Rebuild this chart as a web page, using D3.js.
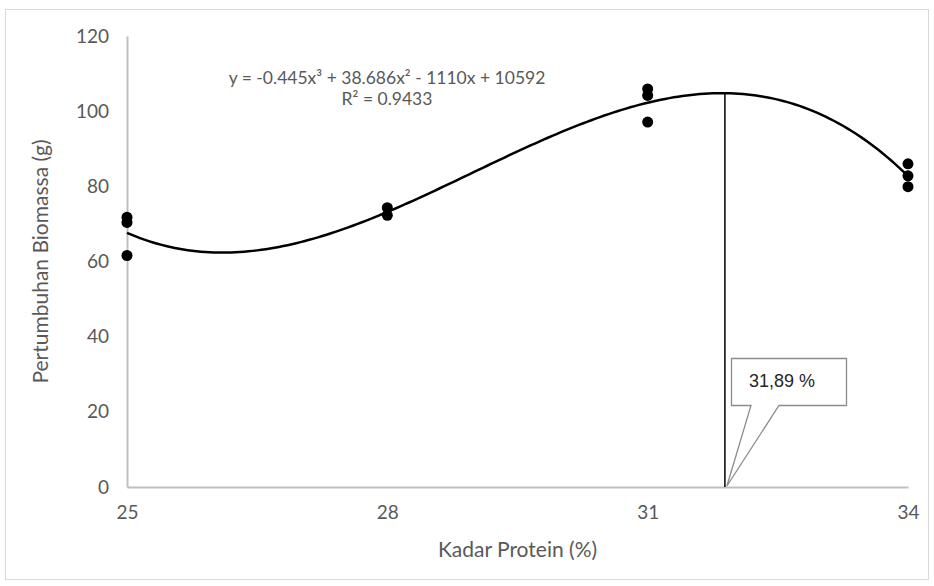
<!DOCTYPE html>
<html>
<head>
<meta charset="utf-8">
<script src="https://cdn.jsdelivr.net/npm/d3@7"></script>
<style>
  body { margin: 0; background: #fff; }
  text { font-family: Lato, "Open Sans", sans-serif; }
</style>
</head>
<body>
<div class="chart"></div>
<script>
var proteinX = [25, 25, 25, 28, 28, 31, 31, 31, 34, 34, 34];
var biomassY = [71.8, 70.4, 61.6, 74.3, 72.3, 105.9, 104.2, 97.1, 86.0, 82.8, 79.9];
// trendline coefficients as printed on the chart (a*x^3 + b*x^2 + c*x + d)
var trendCoef = [-0.445, 38.686, -1110, 10592];
var xTicks = [25, 28, 31, 34];
var yTicks = [0, 20, 40, 60, 80, 100, 120];
var optimumX = 31.89;
var eqLines = ["y = -0.445x\u00b3 + 38.686x\u00b2 - 1110x + 10592", "R\u00b2 = 0.9433"];
var calloutText = "31,89 %";

var width = 934, height = 586;
var margin = { top: 36, right: 26, bottom: 99, left: 127 };

var svg = d3.select(".chart")
  .append("svg")
    .attr("width", width)
    .attr("height", height);

// outer chart frame
svg.append("rect")
    .attr("x", 5.5).attr("y", 9.5)
    .attr("width", 923).attr("height", 570)
    .attr("fill", "none")
    .attr("stroke", "#d9d9d9");

var x = d3.scaleLinear()
    .domain([25, 34])
    .range([margin.left, width - margin.right]);
var y = d3.scaleLinear()
    .domain([0, 120])
    .range([height - margin.bottom, margin.top]);

function poly(v) {
  return trendCoef[0] * v * v * v + trendCoef[1] * v * v + trendCoef[2] * v + trendCoef[3];
}

// axes
var xAxis = svg.append("g")
    .attr("transform", "translate(0," + y(0) + ")")
    .call(d3.axisBottom(x).tickValues(xTicks).tickSize(0).tickPadding(19));
var yAxis = svg.append("g")
    .attr("transform", "translate(" + x(25) + ",0)")
    .call(d3.axisLeft(y).tickValues(yTicks).tickSize(0).tickPadding(18));

[xAxis, yAxis].forEach(function(g) {
  g.select(".domain").attr("stroke", "#bfbfbf").attr("stroke-width", 2);
  g.selectAll("text")
    .attr("fill", "#595959")
    .style("font-size", "19px");
});

// axis titles
svg.append("text")
    .attr("x", (x(25) + x(34)) / 2)
    .attr("y", 557)
    .attr("text-anchor", "middle")
    .attr("fill", "#595959")
    .style("font-size", "21px")
    .text("Kadar Protein (%)");

svg.append("text")
    .attr("transform", "translate(48," + (y(60)) + ") rotate(-90)")
    .attr("text-anchor", "middle")
    .attr("fill", "#595959")
    .style("font-size", "21px")
    .text("Pertumbuhan Biomassa (g)");

// trendline
var curvePts = d3.range(25, 34.0001, 0.05).map(function(v) { return [v, poly(v)]; });
svg.append("path")
    .datum(curvePts)
    .attr("fill", "none")
    .attr("stroke", "#000")
    .attr("stroke-width", 2.5)
    .attr("d", d3.line()
      .x(function(d) { return x(d[0]); })
      .y(function(d) { return y(d[1]); }));

// optimum line
svg.append("line")
    .attr("x1", x(optimumX)).attr("x2", x(optimumX))
    .attr("y1", y(0)).attr("y2", y(poly(optimumX)))
    .attr("stroke", "#000")
    .attr("stroke-width", 1.5);

// points
svg.selectAll(".dot")
    .data(proteinX)
    .enter().append("circle")
      .attr("class", "dot")
      .attr("cx", function(d) { return x(d); })
      .attr("cy", function(d, i) { return y(biomassY[i]); })
      .attr("r", 5.5)
      .attr("fill", "#000");

// equation label
svg.selectAll(".eq")
    .data(eqLines)
    .enter().append("text")
      .attr("class", "eq")
      .attr("x", 387)
      .attr("y", function(d, i) { return 84 + i * 21; })
      .attr("text-anchor", "middle")
      .attr("fill", "#595959")
      .style("font-size", "17.5px")
      .text(function(d) { return d; });

// callout box pointing at the optimum on the x axis
var tipX = x(optimumX) + 2, tipY = y(0) - 1;
var bx0 = 731.5, bx1 = 846.5, by0 = 358.5, by1 = 405.5;
svg.append("path")
    .attr("d", "M" + bx0 + "," + by0 + "H" + bx1 + "V" + by1 + "H779L" + tipX + "," + tipY +
               "L751," + by1 + "H" + bx0 + "Z")
    .attr("fill", "#fff")
    .attr("stroke", "#8c8c8c")
    .attr("stroke-width", 1.3);

svg.append("text")
    .attr("x", 749)
    .attr("y", 387)
    .attr("fill", "#262626")
    .style("font-family", "'Liberation Sans', Arial, sans-serif")
    .style("font-size", "18px")
    .text(calloutText);
</script>
</body>
</html>
